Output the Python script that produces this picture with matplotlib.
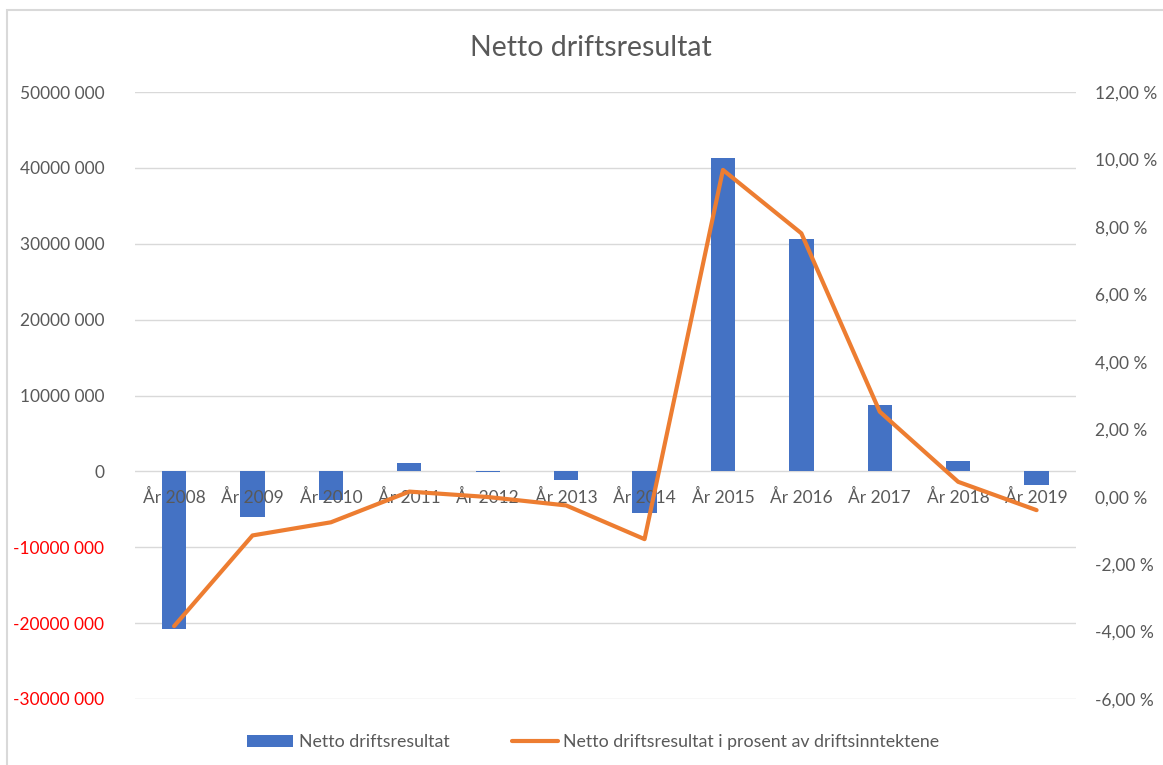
import matplotlib
matplotlib.use("Agg")
import matplotlib.pyplot as plt
from matplotlib.patches import Rectangle
from matplotlib.ticker import FuncFormatter
from matplotlib.transforms import blended_transform_factory, offset_copy

plt.rcParams['font.family'] = ['Lato', 'DejaVu Sans']

# data
years = ['År 2008', 'År 2009', 'År 2010', 'År 2011', 'År 2012', 'År 2013',
         'År 2014', 'År 2015', 'År 2016', 'År 2017', 'År 2018', 'År 2019']
netto = [-20800000, -6000000, -3800000, 1100000, -100000, -1150000,
         -5500000, 41300000, 30600000, 8700000, 1400000, -1800000]
prosent = [-3.84, -1.15, -0.76, 0.15, -0.01, -0.26,
           -1.26, 9.69, 7.81, 2.52, 0.44, -0.40]

left_ticks = [-30000000, -20000000, -10000000, 0, 10000000, 20000000, 30000000, 40000000, 50000000]
right_ticks = [-6, -4, -2, 0, 2, 4, 6, 8, 10, 12]

BLUE = '#4472C4'
ORANGE = '#ED7D31'
GREY = '#595959'
GRID = '#D9D9D9'

fig = plt.figure(figsize=(11.63, 7.65), dpi=100)
ax = fig.add_axes([0.116, 0.0863, 0.809, 0.7934])

x = list(range(len(years)))
ax.bar(x, netto, width=0.31, color=BLUE, zorder=2, label='Netto driftsresultat')
ax.set_xlim(-0.5, len(years) - 0.5)
ax.set_ylim(left_ticks[0], left_ticks[-1])
ax.set_yticks(left_ticks)
ax.yaxis.set_major_formatter(FuncFormatter(
    lambda v, p: '0' if v == 0 else '%d 000' % int(v / 1000)))
ax.grid(axis='y', color=GRID, lw=1, zorder=0)
ax.set_axisbelow(True)
for s in ['top', 'left', 'right', 'bottom']:
    ax.spines[s].set_visible(False)
ax.set_xticks([])
ax.tick_params(axis='y', length=0, pad=22, labelsize=12.5, labelcolor=GREY)
for lab, v in zip(ax.get_yticklabels(), left_ticks):
    if v < 0:
        lab.set_color('#FF0000')

# category labels sit just under the zero line, drawn over the bars
tr = offset_copy(blended_transform_factory(ax.transData, ax.transData), fig=fig, y=-26, units='dots')
for xi, name in zip(x, years):
    ax.text(xi, 0, name, transform=tr, ha='center', va='center',
            fontsize=12.5, color=GREY, zorder=5)

ax2 = ax.twinx()
ax2.plot(x, prosent, color=ORANGE, lw=3, solid_capstyle='round', zorder=3,
         label='Netto driftsresultat i prosent av driftsinntektene')
ax2.set_ylim(right_ticks[0], right_ticks[-1])
ax2.set_yticks(right_ticks)
ax2.yaxis.set_major_formatter(FuncFormatter(lambda v, p: ('%.2f %%' % v).replace('.', ',')))
ax2.tick_params(axis='y', length=0, pad=14, labelsize=12.5, labelcolor=GREY)
for s in ax2.spines.values():
    s.set_visible(False)

fig.text(0.508, 0.937, 'Netto driftsresultat', ha='center', va='center',
         fontsize=20.5, color=GREY)

h1, l1 = ax.get_legend_handles_labels()
h2, l2 = ax2.get_legend_handles_labels()
fig.legend(h1 + h2, l1 + l2, loc='center', bbox_to_anchor=(0.51, 0.03), ncol=2,
           frameon=False, fontsize=12.8, labelcolor=GREY, handlelength=2.6,
           handletextpad=0.3, columnspacing=3.5)

fig.patches.append(Rectangle((7 / 1163, -0.01), 1.0, 1.01 - 10 / 765, transform=fig.transFigure,
                             fill=False, edgecolor=GRID, lw=1.5))

fig.savefig('out.png', dpi=100)
